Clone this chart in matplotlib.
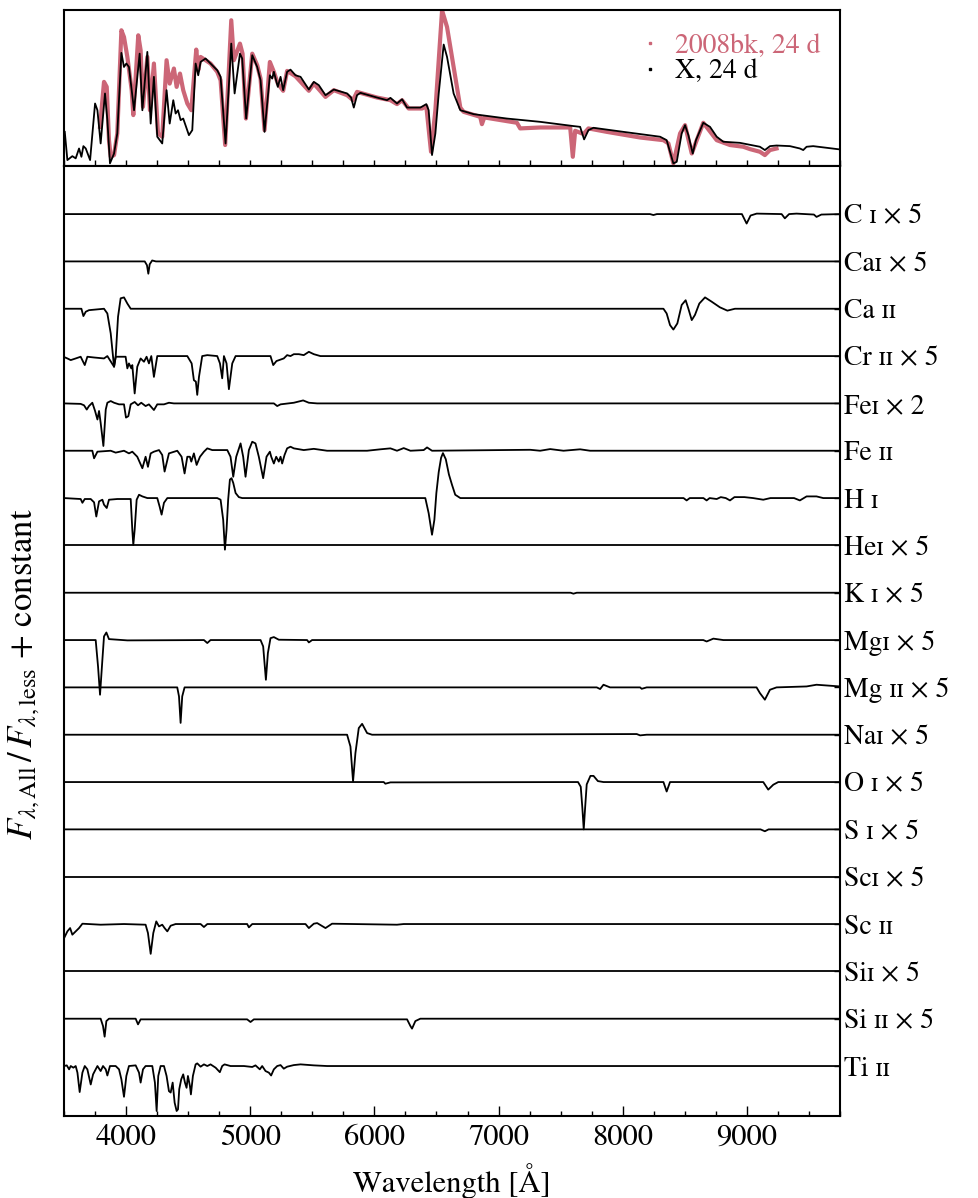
import numpy as np
import matplotlib
matplotlib.use("Agg")
import matplotlib.pyplot as plt
from matplotlib.lines import Line2D

plt.rcParams['font.family'] = ['STIXGeneral', 'DejaVu Serif']
plt.rcParams['mathtext.fontset'] = 'stix'

model_wave = [3506, 3527, 3567, 3594, 3621, 3640, 3656, 3675, 3710, 3750, 3769, 3795,
              3830, 3849, 3870, 3903, 3929, 3962, 3983, 4002, 4023, 4045, 4064, 4109,
              4131, 4171, 4198, 4224, 4251, 4291, 4326, 4351, 4380, 4399, 4418, 4439,
              4460, 4506, 4533, 4560, 4581, 4600, 4640, 4680, 4734, 4761, 4801, 4847,
              4874, 4917, 4935, 4967, 5016, 5056, 5083, 5115, 5158, 5177, 5190, 5222,
              5244, 5265, 5297, 5324, 5364, 5405, 5472, 5512, 5552, 5606, 5673, 5780,
              5812, 5834, 5860, 5887, 6021, 6102, 6129, 6182, 6223, 6263, 6370, 6418,
              6437, 6464, 6491, 6518, 6558, 6585, 6638, 6692, 6799, 7067, 7335, 7603,
              7657, 7689, 7724, 7764, 8006, 8301, 8354, 8408, 8435, 8475, 8502, 8529,
              8564, 8590, 8649, 8703, 8757, 8810, 8944, 9105, 9145, 9186, 9239, 9347,
              9427, 9454, 9481, 9534, 9749]
model_flux = [0.218, 0.038, 0.063, 0.049, 0.112, 0.059, 0.127, 0.112, 0.038, 0.399, 0.356, 0.144,
              0.463, 0.293, 0.017, 0.080, 0.208, 0.722, 0.632, 0.654, 0.632, 0.484, 0.356, 0.717,
              0.356, 0.728, 0.271, 0.569, 0.187, 0.144, 0.484, 0.271, 0.420, 0.335, 0.356, 0.293,
              0.303, 0.197, 0.229, 0.654, 0.579, 0.664, 0.686, 0.654, 0.611, 0.569, 0.144, 0.781,
              0.463, 0.717, 0.686, 0.303, 0.707, 0.632, 0.547, 0.218, 0.579, 0.558, 0.601, 0.505,
              0.569, 0.484, 0.601, 0.615, 0.579, 0.569, 0.488, 0.537, 0.516, 0.452, 0.488, 0.463,
              0.437, 0.373, 0.452, 0.467, 0.437, 0.420, 0.435, 0.399, 0.426, 0.373, 0.373, 0.395,
              0.356, 0.070, 0.208, 0.463, 0.775, 0.696, 0.463, 0.356, 0.331, 0.303, 0.282, 0.255,
              0.250, 0.170, 0.229, 0.244, 0.218, 0.187, 0.165, 0.017, 0.027, 0.208, 0.261, 0.197,
              0.080, 0.165, 0.276, 0.250, 0.187, 0.155, 0.148, 0.123, 0.102, 0.127, 0.131, 0.127,
              0.112, 0.102, 0.123, 0.127, 0.106]

obs_wave = [3790, 3822, 3844, 3862, 3876, 3903, 3929, 3962, 3983, 4010, 4045, 4058,
            4098, 4117, 4136, 4171, 4192, 4224, 4257, 4291, 4326, 4351, 4385, 4407,
            4434, 4460, 4493, 4525, 4565, 4581, 4600, 4640, 4680, 4734, 4761, 4798,
            4847, 4868, 4917, 4938, 4965, 5016, 5056, 5083, 5115, 5158, 5190, 5222,
            5265, 5297, 5364, 5472, 5512, 5606, 5673, 5780, 5828, 5860, 6021, 6129,
            6182, 6223, 6276, 6384, 6418, 6456, 6491, 6545, 6585, 6638, 6692, 6718,
            6852, 6866, 6885, 7148, 7174, 7335, 7577, 7598, 7617, 7684, 7724, 7872,
            8140, 8328, 8368, 8408, 8462, 8502, 8556, 8649, 8757, 8864, 8971, 9025,
            9105, 9145, 9186, 9239]
obs_flux = [0.250, 0.537, 0.505, 0.165, 0.059, 0.070, 0.208, 0.866, 0.823, 0.696, 0.484, 0.325,
            0.834, 0.739, 0.378, 0.696, 0.356, 0.654, 0.208, 0.187, 0.675, 0.526, 0.622, 0.505,
            0.590, 0.484, 0.399, 0.356, 0.743, 0.611, 0.696, 0.675, 0.654, 0.601, 0.547, 0.134,
            0.930, 0.675, 0.781, 0.717, 0.303, 0.717, 0.643, 0.558, 0.229, 0.664, 0.601, 0.526,
            0.480, 0.607, 0.573, 0.480, 0.526, 0.441, 0.484, 0.452, 0.420, 0.473, 0.437, 0.420,
            0.395, 0.420, 0.367, 0.367, 0.382, 0.091, 0.356, 0.993, 0.887, 0.632, 0.373, 0.346,
            0.314, 0.267, 0.310, 0.276, 0.240, 0.246, 0.246, 0.059, 0.225, 0.204, 0.240, 0.218,
            0.182, 0.165, 0.144, 0.017, 0.208, 0.261, 0.080, 0.276, 0.165, 0.134, 0.123, 0.108,
            0.091, 0.070, 0.102, 0.112]

# ---- bottom panel: F_all / F_less - 1 per ion, (wavelength, deviation) pairs
c1 = [(3500, 0), (8220, 0), (8247, -0.02), (8275, 0), (8960, 0), (8998, -0.2), (9030, -0.03),
      (9079, 0.01), (9280, 0), (9306, -0.09), (9340, 0), (9400, 0.01), (9540, -0.01),
      (9561, -0.06), (9600, -0.01), (9750, 0)]
ca1 = [(3500, 0), (4150, 0), (4168, -0.08), (4179, -0.26), (4190, -0.06), (4210, 0.02),
       (4240, 0), (9750, 0)]
ca2 = [(3500, 0), (3640, 0), (3656, -0.155), (3675, -0.063), (3701, -0.03), (3822, 0),
       (3849, -0.1), (3876, -0.52), (3903, -1.225), (3916, -1.02), (3935, -0.17), (3956, 0.22),
       (3983, 0.24), (4010, 0.11), (4037, 0), (8328, 0), (8354, -0.1), (8381, -0.345),
       (8408, -0.44), (8440, -0.31), (8475, 0.08), (8507, 0.18), (8529, 0), (8556, -0.24),
       (8582, -0.13), (8617, 0.11), (8663, 0.24), (8716, 0.15), (8783, 0.03), (8843, -0.04),
       (8904, 0), (9750, 0)]
cr2 = [(3500, -0.02), (3527, -0.05), (3554, -0.085), (3594, -0.05), (3634, -0.014),
       (3667, -0.19), (3688, -0.014), (3742, -0.03), (3822, -0.05), (3849, 0), (3903, -0.225),
       (3916, -0.014), (3996, -0.014), (4010, -0.26), (4023, -0.155), (4042, -0.26),
       (4050, -0.19), (4069, -0.79), (4090, -0.225), (4117, -0.05), (4144, -0.12),
       (4165, -0.014), (4184, -0.155), (4203, 0), (4224, -0.44), (4251, 0), (4493, 0),
       (4528, -0.155), (4546, -0.51), (4562, -0.54), (4573, -0.82), (4587, -0.44), (4613, 0),
       (4654, 0.02), (4734, 0), (4756, -0.155), (4774, -0.47), (4788, 0), (4809, -0.155),
       (4828, -0.70), (4855, -0.155), (4882, 0), (5163, 0), (5185, -0.19), (5211, -0.105),
       (5270, -0.05), (5297, 0.02), (5324, 0), (5351, 0.04), (5391, 0.04), (5431, 0.02),
       (5472, 0.09), (5512, 0.04), (5565, 0), (9750, 0)]
fe1 = [(3500, 0), (3634, -0.01), (3661, -0.04), (3683, -0.13), (3701, -0.056), (3728, 0.014),
       (3750, -0.16), (3769, -0.34), (3782, -0.16), (3795, -0.41), (3817, -0.9), (3836, -0.13),
       (3849, 0.014), (3876, 0.05), (3903, 0.014), (3943, -0.02), (3983, -0.02), (3999, -0.30),
       (4018, -0.27), (4037, -0.02), (4069, 0.03), (4096, -0.04), (4122, 0.014), (4157, -0.056),
       (4184, -0.02), (4224, -0.14), (4251, -0.02), (4305, -0.02), (4345, 0.014), (4385, 0),
       (5190, 0), (5217, -0.056), (5244, -0.02), (5351, 0.014), (5426, 0.063), (5472, 0.014),
       (5539, 0), (9750, 0)]
fe2 = [(3500, 0), (3728, 0), (3742, -0.16), (3769, -0.02), (3876, 0), (3916, -0.04), (3983, 0),
       (4023, -0.056), (4050, -0.02), (4090, -0.127), (4131, -0.37), (4157, -0.127),
       (4176, -0.34), (4198, -0.056), (4224, -0.02), (4265, 0.014), (4291, -0.09), (4310, -0.44),
       (4345, -0.056), (4412, 0), (4447, -0.127), (4471, -0.48), (4493, -0.127), (4514, -0.127),
       (4525, -0.23), (4546, -0.056), (4568, -0.30), (4595, -0.127), (4627, -0.02), (4654, 0.05),
       (4694, 0.014), (4815, 0.014), (4841, -0.127), (4863, -0.55), (4887, -0.127), (4922, 0.155),
       (4943, -0.127), (4962, -0.55), (4989, 0.014), (5016, 0.19), (5042, 0.155), (5069, -0.127),
       (5104, -0.58), (5131, -0.127), (5158, -0.02), (5169, -0.127), (5190, -0.27),
       (5209, -0.127), (5230, -0.23), (5244, -0.127), (5257, -0.27), (5276, -0.09), (5297, 0.05),
       (5324, 0.085), (5351, 0.05), (5431, 0.014), (5512, 0.04), (5619, 0), (5941, 0),
       (6048, 0.03), (6129, 0.05), (6182, 0), (6236, 0.056), (6290, 0), (6397, 0.014),
       (6424, 0.07), (6464, 0), (7255, 0.02), (7335, 0), (7416, 0.035), (7523, 0), (7657, 0.03),
       (7737, 0), (9750, 0)]
h1 = [(3500, 0), (3634, -0.02), (3648, -0.1), (3667, -0.02), (3715, -0.02), (3742, -0.09),
      (3760, -0.39), (3782, -0.07), (3809, -0.035), (3822, -0.14), (3844, -0.21), (3862, -0.035),
      (3929, -0.02), (4037, -0.02), (4050, -0.67), (4058, -0.99), (4069, -0.67), (4085, -0.035),
      (4104, 0.07), (4131, 0.035), (4171, 0), (4251, 0), (4270, -0.18), (4286, -0.35),
      (4305, -0.1), (4332, 0), (4734, 0), (4761, -0.035), (4782, -0.46), (4796, -1.09),
      (4809, -0.67), (4822, -0.035), (4836, 0.39), (4849, 0.42), (4863, 0.32), (4882, 0.106),
      (4908, 0.02), (4935, 0), (6410, 0), (6437, -0.32), (6464, -0.775), (6483, -0.46),
      (6499, 0.106), (6518, 0.55), (6537, 0.85), (6552, 0.95), (6575, 0.82), (6600, 0.5),
      (6625, 0.28), (6651, 0.07), (6692, 0), (8300, 0), (8490, 0), (8515, -0.05), (8540, 0),
      (8650, 0), (8676, -0.05), (8700, 0), (8757, -0.02), (8790, 0.02), (8830, 0), (8864, -0.05),
      (8900, 0.02), (8980, 0.02), (9050, 0), (9132, -0.035), (9190, 0), (9380, 0), (9427, -0.05),
      (9481, 0.035), (9561, 0.035), (9615, 0), (9750, 0)]
he1 = [(3500, 0), (9750, 0)]
k1 = [(3500, 0), (7580, 0), (7603, -0.02), (7630, 0), (9750, 0)]
mg1 = [(3500, 0), (3755, 0), (3774, -0.56), (3790, -1.155), (3809, -0.415), (3822, 0.077),
       (3841, 0.16), (3862, 0.02), (4010, -0.007), (4627, 0), (4654, -0.063), (4680, 0),
       (5083, 0), (5104, -0.134), (5126, -0.84), (5142, -0.275), (5163, 0.04), (5190, 0.063),
       (5230, 0.007), (5458, 0), (5472, -0.05), (5498, 0), (8649, 0), (8676, -0.03),
       (8730, 0.03), (8810, 0), (9750, 0)]
mg2 = [(3500, 0), (4412, 0), (4426, -0.19), (4439, -0.75), (4452, -0.19), (4471, 0), (7791, 0),
       (7818, -0.035), (7845, 0.056), (7898, 0), (8140, 0), (8153, -0.03), (8193, 0), (9078, 0),
       (9105, -0.12), (9145, -0.26), (9186, -0.05), (9239, 0), (9481, 0.02), (9561, 0.056),
       (9750, 0.02)]
na1 = [(3500, 0), (5780, 0), (5807, -0.25), (5828, -0.985), (5847, -0.39), (5874, 0.14),
       (5901, 0.23), (5941, 0.035), (5981, 0), (8113, 0.014), (8140, -0.014), (8193, 0),
       (9750, 0)]
o1 = [(3500, 0), (6075, 0), (6088, -0.035), (6129, -0.007), (7640, 0), (7662, -0.1),
      (7675, -0.55), (7686, -1.0), (7697, -0.55), (7710, -0.05), (7740, 0.13), (7765, 0.13),
      (7800, 0.02), (7845, 0), (8328, 0), (8354, -0.2), (8381, 0), (9132, 0), (9172, -0.16),
      (9213, -0.056), (9253, 0), (9750, 0)]
s1 = [(3500, 0), (9110, 0), (9145, -0.04), (9175, 0), (9750, 0)]
sc1 = [(3500, 0), (9750, 0)]
sc2 = [(3500, -0.3), (3514, -0.225), (3527, -0.155), (3549, -0.085), (3567, -0.225),
       (3594, -0.155), (3621, -0.085), (3648, 0.007), (3795, -0.014), (3983, 0), (4157, -0.014),
       (4176, -0.19), (4198, -0.63), (4219, -0.19), (4243, 0.056), (4265, -0.05), (4291, -0.014),
       (4310, -0.085), (4332, -0.155), (4359, -0.035), (4399, 0), (4600, 0), (4627, -0.063),
       (4654, 0), (4975, 0), (4989, -0.07), (5016, 0), (5445, 0), (5472, -0.085), (5512, 0.007),
       (5539, 0.02), (5606, -0.085), (5659, 0.007), (6182, -0.014), (6236, 0), (9750, 0)]
si1 = [(3500, 0), (9750, 0)]
si2 = [(3500, 0), (3795, 0), (3814, -0.155), (3827, -0.38), (3841, -0.05), (3862, 0), (4077, 0),
       (4096, -0.12), (4117, -0.014), (4975, -0.014), (5002, -0.07), (5029, -0.014),
       (6263, -0.014), (6290, -0.155), (6303, -0.21), (6330, -0.05), (6370, 0), (9750, 0)]
ti2 = [(3500, 0), (3522, 0.014), (3541, -0.07), (3554, 0), (3575, -0.035), (3594, 0),
       (3608, -0.14), (3626, -0.55), (3648, -0.14), (3667, 0), (3688, -0.07), (3715, -0.39),
       (3734, -0.176), (3755, -0.07), (3769, 0), (3795, -0.106), (3814, 0), (3836, -0.07),
       (3849, -0.2), (3870, 0), (3916, 0), (3943, -0.07), (3962, -0.28), (3983, -0.65),
       (4002, -0.21), (4023, 0), (4077, 0.014), (4104, -0.14), (4117, -0.35), (4136, -0.07),
       (4157, 0), (4211, 0), (4232, -0.35), (4246, -0.95), (4259, -0.21), (4278, 0), (4305, 0),
       (4326, -0.21), (4345, -0.53), (4359, -0.56), (4375, -0.35), (4391, -0.775), (4407, -0.95),
       (4418, -0.915), (4428, -0.49), (4444, -0.28), (4460, -0.176), (4474, -0.35),
       (4487, -0.46), (4498, -0.21), (4514, -0.42), (4522, -0.6), (4538, -0.21), (4560, 0.035),
       (4573, 0.056), (4600, -0.014), (4627, 0.035), (4654, 0), (4680, 0.035), (4721, -0.035),
       (4755, -0.13), (4774, 0), (4793, 0.035), (4841, 0), (4949, 0), (5016, -0.02),
       (5042, 0.014), (5077, -0.07), (5096, 0), (5123, -0.106), (5150, -0.14), (5168, -0.2),
       (5190, -0.07), (5217, 0), (5244, 0.02), (5270, -0.056), (5297, -0.014), (5351, 0.02),
       (5405, 0.035), (5512, 0.014), (5619, 0), (9750, 0)]

ions = [c1, ca1, ca2, cr2, fe1, fe2, h1, he1, k1, mg1, mg2, na1, o1, s1, sc1, sc2, si1, si2, ti2]
ion_labels = ["C ɪ × 5", "Caɪ × 5", "Ca ɪɪ", "Cr ɪɪ × 5", "Feɪ × 2", "Fe ɪɪ", "H ɪ",
              "Heɪ × 5", "K ɪ × 5", "Mgɪ × 5", "Mg ɪɪ × 5", "Naɪ × 5", "O ɪ × 5", "S ɪ × 5",
              "Scɪ × 5", "Sc ɪɪ", "Siɪ × 5", "Si ɪɪ × 5", "Ti ɪɪ"]

obs_color = '#CC6677'

fig = plt.figure(figsize=(9.79, 11.98), dpi=100)
ax_top = fig.add_axes([0.0654, 0.8614, 0.7926, 0.1302])
ax = fig.add_axes([0.0654, 0.0684, 0.7926, 0.7930], sharex=ax_top)

# top panel
ax_top.plot(obs_wave, obs_flux, color=obs_color, lw=3.0)
ax_top.plot(model_wave, model_flux, color='k', lw=1.3)
ax_top.set_ylim(0, 0.995)
ax_top.set_yticks([])
ax_top.tick_params(axis='x', which='both', direction='in', length=4, width=1,
                   labelbottom=False)
handles = [Line2D([], [], color=obs_color, marker='s', markersize=2, ls='none'),
           Line2D([], [], color='k', marker='s', markersize=2, ls='none')]
ax_top.legend(handles, ["2008bk, 24 d", "X, 24 d"], loc='upper right', frameon=False,
              fontsize=20, labelcolor=[obs_color, 'k'], handlelength=0.6,
              handletextpad=0.6, borderaxespad=0.3, labelspacing=0.0,
              bbox_to_anchor=(1.0, 0.975))

# bottom panel
n = len(ions)
offsets = np.arange(n)[::-1]
for pts, off in zip(ions, offsets):
    w = [p[0] for p in pts]
    d = [p[1] for p in pts]
    ax.plot(w, np.array(d) + off, color='k', lw=1.3)

ax.set_xlim(3500, 9750)
ax.set_ylim(-1.057, n - 1 + 1.015)
ax.set_xticks(np.arange(4000, 9001, 1000))
ax.set_xticks(np.arange(3500, 9751, 250), minor=True)
ax.yaxis.tick_right()
ax.set_yticks(offsets)
ax.set_yticklabels(ion_labels, fontsize=20)
ax.tick_params(axis='x', which='major', direction='in', length=7, width=1, labelsize=22, pad=6)
ax.tick_params(axis='x', which='minor', direction='in', length=3.5, width=1)
ax.tick_params(axis='y', which='major', direction='in', length=4, width=1, pad=3)
ax.set_xlabel("Wavelength [Å]", fontsize=22, labelpad=8)
ax.set_ylabel(r"$F_{\lambda,\mathrm{All}}\,/\,F_{\lambda,\mathrm{less}}$ + constant", fontsize=25)
ax.yaxis.set_label_position('left')
ax.yaxis.set_label_coords(-0.028, 0.465)

for a in (ax, ax_top):
    for s in a.spines.values():
        s.set_linewidth(1.5)

plt.savefig("out.png", dpi=100)
